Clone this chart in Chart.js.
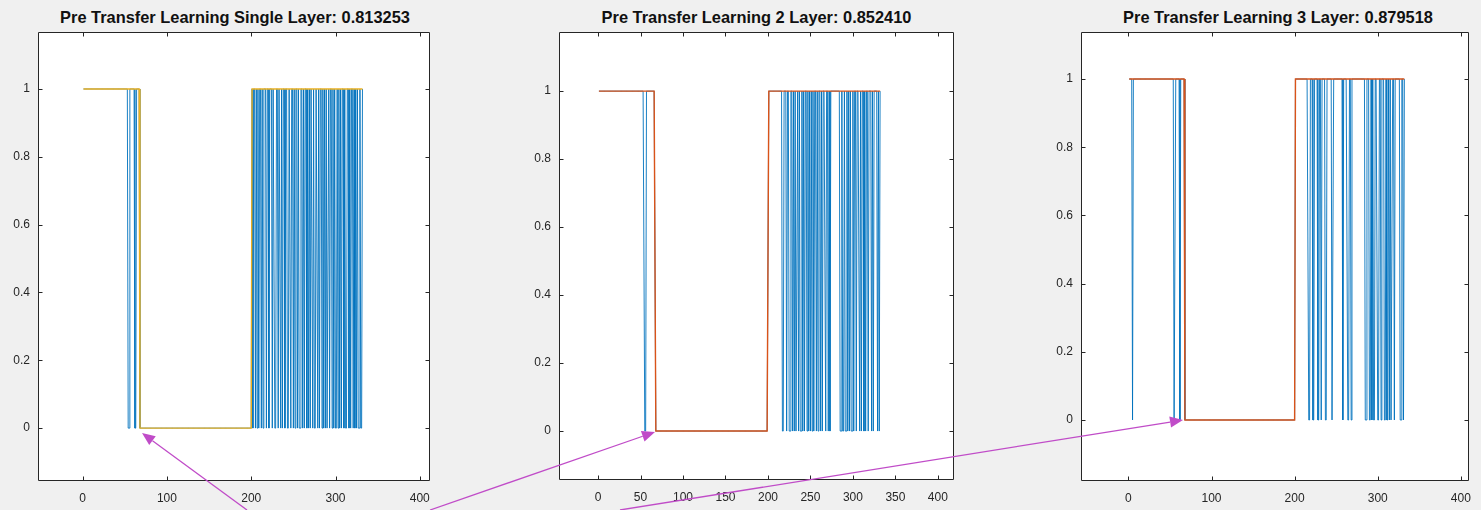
<!DOCTYPE html>
<html>
<head>
<meta charset="utf-8">
<script src="https://cdn.jsdelivr.net/npm/chart.js@4/dist/chart.umd.min.js"></script>
<style>
html,body{margin:0;padding:0;background:#f0f0f0;width:1481px;height:510px;overflow:hidden;position:relative;font-family:"Liberation Sans",Arial,sans-serif}
canvas{position:absolute;top:0}
.title{position:absolute;top:9px;height:16px;line-height:16px;text-align:center;font-weight:bold;font-size:16.4px;color:#111;white-space:nowrap}
svg{position:absolute;left:0;top:0;pointer-events:none}
</style>
</head>
<body>
<div class="title" id="t1" style="left:38px;width:394px"></div>
<div class="title" id="t2" style="left:559px;width:395px"></div>
<div class="title" id="t3" style="left:1081px;width:394px"></div>
<canvas id="c1" width="440" height="510" style="left:0px"></canvas>
<canvas id="c2" width="520" height="510" style="left:440px"></canvas>
<canvas id="c3" width="521" height="510" style="left:960px"></canvas>
<svg width="1481" height="510" id="arrows"></svg>
<script>
// ---------------- data ----------------
const sampleCount = 332;
// ground truth runs: [first sample, last sample, class]
const truthRuns = [[1, 67, 1], [68, 200, 0], [201, 332, 1]];

const titles = [
  "Pre Transfer Learning Single Layer: 0.813253",
  "Pre Transfer Learning 2 Layer: 0.852410",
  "Pre Transfer Learning 3 Layer: 0.879518"
];

// samples where the prediction differs from the ground truth (predicted 0)
const errors1 = [54, 55, 62, 63,
  202, 205, 207, 209, 212, 214, 218, 221, 225, 228, 229, 232, 235, 237, 240, 243,
  244, 247, 250, 252, 255, 257, 258, 261, 263, 266, 268, 270, 273, 275, 276, 279,
  281, 284, 286, 288, 290, 291, 293, 296, 298, 300, 301, 303, 305, 307, 310, 312,
  313, 316, 318, 321, 323, 325, 327, 328, 330, 331];
const errors2 = [55, 56,
  217, 218, 222, 225, 226, 229, 231, 233, 234, 236, 238, 239, 241, 243, 246, 248,
  250, 252, 254, 257, 259, 262, 264, 268, 271, 273, 285, 286, 288, 289, 291, 292,
  294, 296, 298, 299, 301, 304, 308, 310, 313, 315, 318, 322, 324, 329, 331];
const errors3 = [5, 55, 56, 62,
  217, 218, 222, 223, 228, 229, 232, 237, 238, 245, 246, 258, 264, 265, 268, 285,
  286, 290, 291, 293, 295, 296, 300, 301, 304, 308, 309, 311, 312, 314, 316, 317,
  320, 327, 328, 331];

const xTicks1 = [0, 100, 200, 300, 400];
const xTicks2 = [0, 50, 100, 150, 200, 250, 300, 350, 400];
const xTicks3 = [0, 100, 200, 300, 400];
const yTicks = [0, 0.2, 0.4, 0.6, 0.8, 1];

const xLimits1 = [-53, 412];
const xLimits2 = [-46, 419];
const xLimits3 = [-57, 409.5];
const yLimits1 = [-0.156, 1.168];
const yLimits2 = [-0.144, 1.174];
const yLimits3 = [-0.179, 1.138];

// ---------------- build series ----------------
function truthSeries() {
  const out = [];
  for (const [a, b, c] of truthRuns) for (let i = a; i <= b; i++) out.push({x: i, y: c});
  return out;
}
function predSeries(errs) {
  const set = new Set(errs);
  return truthSeries().map(p => ({x: p.x, y: set.has(p.x) ? 1 - p.y : p.y}));
}

const AX = '#262626';
const framePlugin = {
  id: 'frame',
  beforeDraw(chart) {
    const {ctx, chartArea: a} = chart;
    ctx.save();
    ctx.fillStyle = '#ffffff';
    ctx.fillRect(a.left, a.top, a.right - a.left, a.bottom - a.top);
    ctx.restore();
  },
  afterDraw(chart) {
    const {ctx, chartArea: a, scales} = chart;
    ctx.save();
    ctx.strokeStyle = AX;
    ctx.lineWidth = 1;
    const L = Math.round(a.left) + 0.5, R = Math.round(a.right) - 0.5;
    const T = Math.round(a.top) + 0.5, B = Math.round(a.bottom) - 0.5;
    ctx.beginPath();
    ctx.rect(L, T, R - L, B - T);
    const tl = 4;
    for (const t of scales.x.ticks) {
      const px = Math.round(scales.x.getPixelForValue(t.value)) + 0.5;
      ctx.moveTo(px, T); ctx.lineTo(px, T + tl);
      ctx.moveTo(px, B); ctx.lineTo(px, B - tl);
    }
    for (const t of scales.y.ticks) {
      const py = Math.round(scales.y.getPixelForValue(t.value)) + 0.5;
      ctx.moveTo(L, py); ctx.lineTo(L + tl, py);
      ctx.moveTo(R, py); ctx.lineTo(R - tl, py);
    }
    ctx.stroke();
    ctx.restore();
  }
};

function makePanel(id, o) {
  const cv = document.getElementById(id);
  new Chart(cv, {
    type: 'line',
    data: {
      datasets: [
        {label: 'truth', data: truthSeries(), borderColor: o.truthColor, borderWidth: 1.4, pointRadius: 0, order: 0},
        {label: 'pred', data: predSeries(o.errors), borderColor: '#0072BD', borderWidth: 0.9, pointRadius: 0, order: 1}
      ]
    },
    options: {
      responsive: false,
      animation: false,
      devicePixelRatio: 1,
      parsing: false,
      normalized: true,
      layout: {padding: {top: 32, left: 0, right: o.padRight, bottom: 0}},
      plugins: {legend: {display: false}, tooltip: {enabled: false}, title: {display: false}},
      elements: {line: {tension: 0}},
      scales: {
        x: {
          type: 'linear', min: o.xLim[0], max: o.xLim[1],
          grid: {display: false, drawTicks: false},
          border: {display: false},
          afterBuildTicks: s => { s.ticks = o.xTicks.map(v => ({value: v})); },
          afterFit: s => { s.height = o.xAxisH; },
          ticks: {autoSkip: false, maxRotation: 0, padding: 10, color: AX,
                  font: {family: '"Liberation Sans", Arial, sans-serif', size: 12},
                  callback: v => String(v)}
        },
        y: {
          type: 'linear', min: o.yLim[0], max: o.yLim[1],
          grid: {display: false, drawTicks: false},
          border: {display: false},
          afterBuildTicks: s => { s.ticks = yTicks.map(v => ({value: v})); },
          afterFit: s => { s.width = o.yAxisW; },
          ticks: {autoSkip: false, padding: 8, color: AX,
                  font: {family: '"Liberation Sans", Arial, sans-serif', size: 12},
                  callback: v => String(v)}
        }
      }
    },
    plugins: [framePlugin]
  });
}

document.getElementById('t1').textContent = titles[0];
document.getElementById('t2').textContent = titles[1];
document.getElementById('t3').textContent = titles[2];

makePanel('c1', {errors: errors1, truthColor: '#EDB120', xLim: xLimits1, yLim: yLimits1, xTicks: xTicks1, yAxisW: 38, xAxisH: 29, padRight: 8});
makePanel('c2', {errors: errors2, truthColor: '#D95319', xLim: xLimits2, yLim: yLimits2, xTicks: xTicks2, yAxisW: 119, xAxisH: 30, padRight: 6});
makePanel('c3', {errors: errors3, truthColor: '#D95319', xLim: xLimits3, yLim: yLimits3, xTicks: xTicks3, yAxisW: 121, xAxisH: 29, padRight: 6});

// ---------------- annotation arrows ----------------
const arrows = [[247, 510, 142, 433], [430, 510, 655, 432], [620, 510, 1183, 420]];
const svg = document.getElementById('arrows');
const NS = 'http://www.w3.org/2000/svg';
const AC = '#C04CC8';
for (const [x1, y1, x2, y2] of arrows) {
  const dx = x2 - x1, dy = y2 - y1, len = Math.hypot(dx, dy);
  const ux = dx / len, uy = dy / len;
  const hl = 13, hw = 5.5;
  const bx = x2 - ux * hl, by = y2 - uy * hl;
  const line = document.createElementNS(NS, 'line');
  line.setAttribute('x1', x1); line.setAttribute('y1', y1);
  line.setAttribute('x2', bx); line.setAttribute('y2', by);
  line.setAttribute('stroke', AC); line.setAttribute('stroke-width', '1.3');
  svg.appendChild(line);
  const poly = document.createElementNS(NS, 'polygon');
  const pts = [[x2, y2], [bx - uy * hw, by + ux * hw], [bx + uy * hw, by - ux * hw]];
  poly.setAttribute('points', pts.map(p => p.join(',')).join(' '));
  poly.setAttribute('fill', AC);
  svg.appendChild(poly);
}
</script>
</body>
</html>
